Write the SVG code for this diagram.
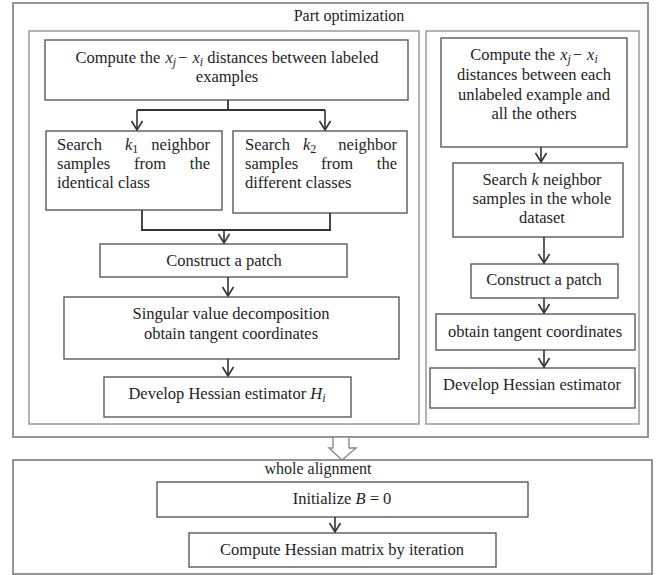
<svg xmlns="http://www.w3.org/2000/svg" width="657" height="575" viewBox="0 0 657 575">
<defs>
<style>
.frame{fill:none;stroke:#8a8a8a;stroke-width:1.8}
.inner{fill:none;stroke:#9a9a9a;stroke-width:1.5}
.box{fill:#fff;stroke:#5a5a5a;stroke-width:1.4}
.t{font-family:"Liberation Serif","Times New Roman",serif;font-size:16.5px;fill:#1e1e1e}
.h{font-size:16px}
.m{text-anchor:middle}
.e{text-anchor:end}
.i{font-style:italic}
.sub{font-size:12px}
.ln{fill:none;stroke:#333;stroke-width:1.8}
.ar{fill:none;stroke:#333;stroke-width:1.6;marker-end:url(#v)}
</style>
<marker id="v" viewBox="-10 -7 12 14" refX="0" refY="0" markerWidth="12" markerHeight="14" markerUnits="userSpaceOnUse" orient="auto">
<path d="M-9,-5.5 L0,0 L-9,5.5" fill="none" stroke="#333" stroke-width="1.6"/>
</marker>
</defs>

<g id="part-optimization">
<rect class="frame" x="13" y="3" width="635" height="434"/>
<text class="t h m" x="349" y="21">Part optimization</text>
</g>
<g id="labeled-panel"><rect class="inner" x="29" y="31" width="390" height="393"/></g>
<g id="unlabeled-panel"><rect class="inner" x="426" y="31" width="213" height="393"/></g>

<g id="l-compute">
<rect class="box" x="45" y="40" width="363" height="60"/>
<text class="t m" x="227" y="63">Compute the <tspan class="i" dx="1">x</tspan><tspan class="sub i" dy="3">j</tspan><tspan dy="-3" dx="2">−</tspan><tspan class="i" dx="5">x</tspan><tspan class="sub i" dy="3">i</tspan><tspan dy="-3"> distances between labeled</tspan></text>
<text class="t m" x="227" y="82">examples</text>
</g>
<g id="l-search1">
<rect class="box" x="46" y="131" width="176" height="79"/>
<text class="t" x="57" y="150">Search</text>
<text class="t" x="125" y="150"><tspan class="i">k</tspan><tspan class="sub" dy="3">1</tspan></text>
<text class="t e" x="210" y="150">neighbor</text>
<text class="t" x="57" y="169">samples</text>
<text class="t m" x="150" y="169">from</text>
<text class="t e" x="210" y="169">the</text>
<text class="t" x="57" y="188">identical class</text>
</g>
<g id="l-search2">
<rect class="box" x="233" y="131" width="174" height="82"/>
<text class="t" x="245" y="150">Search</text>
<text class="t" x="303" y="150"><tspan class="i">k</tspan><tspan class="sub" dy="3">2</tspan></text>
<text class="t e" x="397" y="150">neighbor</text>
<text class="t" x="245" y="169">samples</text>
<text class="t m" x="337" y="169">from</text>
<text class="t e" x="397" y="169">the</text>
<text class="t" x="245" y="188">different classes</text>
</g>
<g id="l-patch">
<rect class="box" x="100" y="244" width="247" height="33"/>
<text class="t m" x="224" y="266">Construct a patch</text>
</g>
<g id="l-svd">
<rect class="box" x="64" y="297" width="335" height="62"/>
<text class="t m" x="231" y="319">Singular value decomposition</text>
<text class="t m" x="231" y="339">obtain tangent coordinates</text>
</g>
<g id="l-hessian">
<rect class="box" x="104" y="377" width="247" height="40"/>
<text class="t m" x="227" y="399">Develop Hessian estimator <tspan class="i">H</tspan><tspan class="sub i" dy="3">i</tspan></text>
</g>

<g id="r-compute">
<rect class="box" x="441" y="38" width="186" height="109"/>
<text class="t m" x="534" y="60">Compute the <tspan class="i" dx="1">x</tspan><tspan class="sub i" dy="3">j</tspan><tspan dy="-3" dx="2">−</tspan><tspan class="i" dx="5">x</tspan><tspan class="sub i" dy="3">i</tspan></text>
<text class="t m" x="534" y="80">distances between each</text>
<text class="t m" x="534" y="100">unlabeled example and</text>
<text class="t m" x="534" y="119">all the others</text>
</g>
<g id="r-search">
<rect class="box" x="453" y="163" width="170" height="74"/>
<text class="t m" x="542" y="185">Search <tspan class="i">k</tspan> neighbor</text>
<text class="t m" x="542" y="204">samples in the whole</text>
<text class="t m" x="542" y="223">dataset</text>
</g>
<g id="r-patch">
<rect class="box" x="471" y="264" width="147" height="34"/>
<text class="t m" x="544" y="285">Construct a patch</text>
</g>
<g id="r-tangent">
<rect class="box" x="436" y="314" width="199" height="36"/>
<text class="t m" x="535" y="337">obtain tangent coordinates</text>
</g>
<g id="r-hessian">
<rect class="box" x="430" y="368" width="205" height="40"/>
<text class="t m" x="532" y="390">Develop Hessian estimator</text>
</g>

<g id="whole-alignment">
<rect class="frame" x="13" y="460" width="639" height="114"/>
<text class="t h m" x="318" y="474">whole alignment</text>
</g>
<g id="w-init">
<rect class="box" x="157" y="482" width="371" height="35"/>
<text class="t m" x="342" y="504">Initialize <tspan class="i">B</tspan> = 0</text>
</g>
<g id="w-compute">
<rect class="box" x="189" y="533" width="307" height="34"/>
<text class="t m" x="342" y="555">Compute Hessian matrix by iteration</text>
</g>

<g id="connectors">
<path class="ln" d="M228,100 V110 M137,110 H325"/>
<path class="ar" d="M137,110 V130"/>
<path class="ar" d="M325,110 V130"/>
<path class="ln" d="M142,210 V230 M330,213 V230 M141,230 H331"/>
<path class="ar" d="M224,230 V243"/>
<path class="ar" d="M228,277 V296"/>
<path class="ar" d="M228,359 V376"/>
<path class="ar" d="M541,147 V162"/>
<path class="ar" d="M544,237 V263"/>
<path class="ar" d="M544,298 V313"/>
<path class="ar" d="M544,350 V367"/>
<path class="ar" d="M335,517 V532"/>
<polygon points="333,437 349,437 349,448 356,448 342,460 329,448 333,448" fill="#fff" stroke="#8a8a8a" stroke-width="1.4"/>
</g>
</svg>
